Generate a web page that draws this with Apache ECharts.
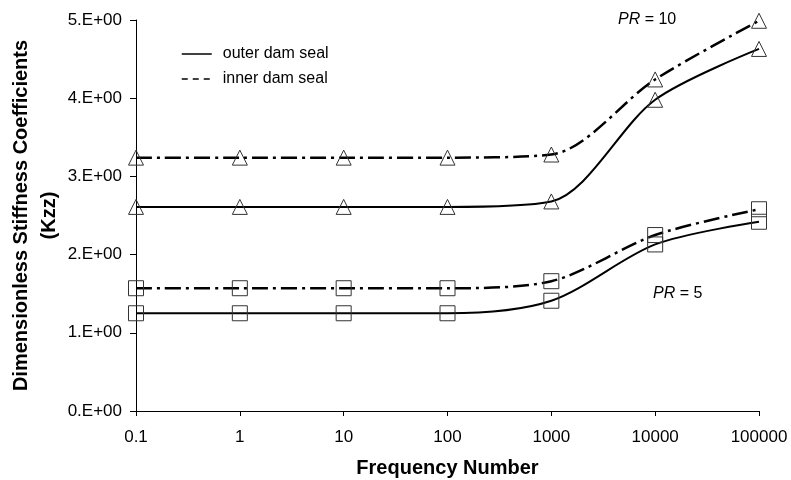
<!DOCTYPE html>
<html>
<head>
<meta charset="utf-8">
<script src="https://cdn.jsdelivr.net/npm/echarts@6/dist/echarts.min.js"></script>
<style>html,body{margin:0;padding:0;background:#fff}#chart{width:791px;height:480px}</style>
</head>
<body>
<div id="chart"></div>
<script>
const categories = ['0.1', '1', '10', '100', '1000', '10000', '100000'];
const outerPR10 = [2.61, 2.61, 2.61, 2.61, 2.68, 3.98, 4.63];
const innerPR10 = [3.24, 3.24, 3.24, 3.24, 3.28, 4.24, 4.99];
const outerPR5 = [1.25, 1.25, 1.25, 1.25, 1.41, 2.13, 2.42];
const innerPR5 = [1.57, 1.57, 1.57, 1.57, 1.66, 2.25, 2.58];
const yTickLabels = ['0.E+00', '1.E+00', '2.E+00', '3.E+00', '4.E+00', '5.E+00'];
const legendNames = ['outer dam seal', 'inner dam seal'];

const FONT = 'Liberation Sans, Arial, sans-serif';
const dashDot = [16, 5, 3, 5];

function dataSeries(name, data, symbol, inner) {
  return {
    name: name,
    type: 'line',
    data: data,
    smooth: 0.3,
    symbol: symbol,
    symbolSize: 15,
    showAllSymbol: true,
    lineStyle: inner ? { color: '#000', width: 2.5, type: dashDot } : { color: '#000', width: 2, type: 'solid' },
    itemStyle: { color: 'rgba(0,0,0,0)', borderColor: '#333', borderWidth: 1 },
    emphasis: { disabled: true },
    z: 3
  };
}

const chart = echarts.init(document.getElementById('chart'), null, { renderer: 'canvas' });
chart.setOption({
  animation: false,
  backgroundColor: '#fff',
  textStyle: { fontFamily: FONT, color: '#000' },
  grid: { left: 136, right: 32, top: 20, bottom: 69, containLabel: false, outerBoundsMode: 'none' },
  legend: {
    data: [
      { name: legendNames[0], lineStyle: { color: '#000', width: 1.5, type: 'solid' } },
      { name: legendNames[1], lineStyle: { color: '#000', width: 1.5, type: [6, 5] } }
    ],
    orient: 'vertical',
    left: 181,
    top: 45,
    padding: 0,
    itemWidth: 30,
    itemHeight: 18,
    itemGap: 7,
    selectedMode: false,
    itemStyle: { color: 'rgba(0,0,0,0)', borderWidth: 0, opacity: 0 },
    textStyle: { fontFamily: FONT, fontSize: 16, color: '#000', padding: [0, 0, 0, 6], lineHeight: 18 }
  },
  xAxis: {
    type: 'category',
    data: categories,
    boundaryGap: false,
    name: 'Frequency Number',
    nameLocation: 'middle',
    nameGap: 47,
    nameMoveOverlap: false,
    nameTextStyle: { fontFamily: FONT, fontSize: 20, fontWeight: 'bold', color: '#000' },
    axisLine: { lineStyle: { color: '#000', width: 1 } },
    axisTick: { show: true, inside: false, length: 5, alignWithLabel: true, lineStyle: { color: '#000' } },
    axisLabel: { fontFamily: FONT, fontSize: 17, color: '#000', margin: 18 },
    splitLine: { show: false }
  },
  yAxis: {
    type: 'value',
    min: 0,
    max: 5,
    interval: 1,
    name: 'Dimensionless Stiffness Coefficients\n(Kzz)',
    nameLocation: 'middle',
    nameRotate: 90,
    nameGap: 73,
    nameMoveOverlap: false,
    nameTextStyle: { fontFamily: FONT, fontSize: 20, fontWeight: 'bold', color: '#000', lineHeight: 28, align: 'center' },
    axisLine: { show: true, lineStyle: { color: '#000', width: 1 } },
    axisTick: { show: true, inside: false, length: 6, lineStyle: { color: '#000' } },
    axisLabel: { fontFamily: FONT, fontSize: 17, color: '#000', margin: 14, formatter: function (v) { return yTickLabels[Math.round(v)]; } },
    splitLine: { show: false }
  },
  graphic: [
    { type: 'text', left: 618, top: 12, style: { text: '{i|PR} = 10', font: '16px Liberation Sans', fill: '#000', rich: { i: { fontStyle: 'italic', fontSize: 16, fontFamily: FONT } } } },
    { type: 'text', left: 653, top: 286, style: { text: '{i|PR} = 5', font: '16px Liberation Sans', fill: '#000', rich: { i: { fontStyle: 'italic', fontSize: 16, fontFamily: FONT } } } }
  ],
  series: [
    { name: legendNames[0], type: 'line', data: [], symbol: 'none', lineStyle: { color: '#000', width: 1.5, type: 'solid' }, itemStyle: { color: '#000' } },
    { name: legendNames[1], type: 'line', data: [], symbol: 'none', lineStyle: { color: '#000', width: 1.5, type: [6, 5] }, itemStyle: { color: '#000' } },
    dataSeries('outer PR10', outerPR10, 'triangle', false),
    dataSeries('inner PR10', innerPR10, 'triangle', true),
    dataSeries('outer PR5', outerPR5, 'rect', false),
    dataSeries('inner PR5', innerPR5, 'rect', true)
  ]
});
</script>
</body>
</html>
